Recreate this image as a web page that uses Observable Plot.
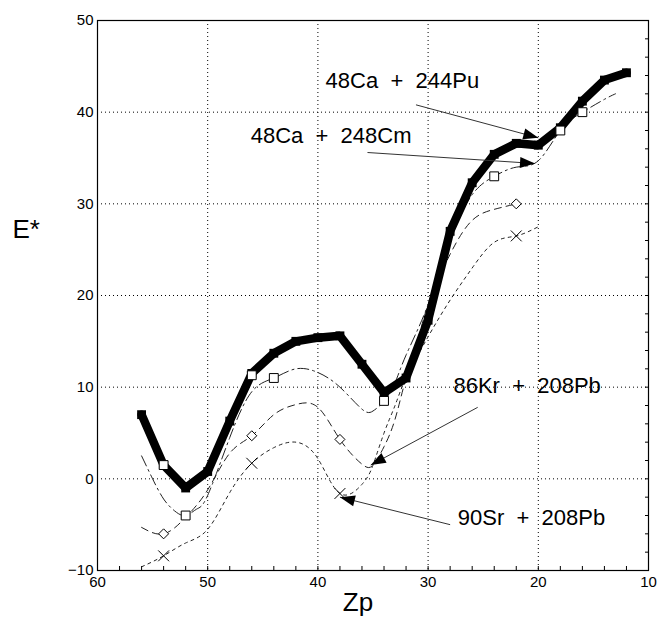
<!DOCTYPE html>
<html>
<head>
<meta charset="utf-8">
<script src="https://cdn.jsdelivr.net/npm/d3@7"></script>
<script src="https://cdn.jsdelivr.net/npm/@observablehq/plot@0.6"></script>
<style>
  body { margin: 0; background: white; }
  svg text { white-space: pre; }
</style>
</head>
<body>
<div id="chart"></div>
<script>
// 48Ca + 244Pu (thick solid line)
const puZ = [56, 54, 52, 50, 48, 46, 44, 42, 40, 38, 36, 34, 32, 30, 28, 26, 24, 22, 20, 18, 16, 14, 12];
const puE = [7, 1.5, -1, 0.8, 6.3, 11.5, 13.7, 15, 15.4, 15.6, 12.5, 9.4, 11, 17.3, 27, 32.3, 35.4, 36.6, 36.4, 38.3, 41.2, 43.5, 44.3];

// 48Ca + 248Cm (dash-dot curve, open squares)
const cmZ = [56, 55, 54, 53, 52, 51, 50, 48, 46, 44, 42, 40, 38, 36, 35, 34, 33, 32, 30, 28, 26, 24, 22, 20, 18, 16, 14, 13];
const cmE = [2.5, 0, -2.2, -3.5, -4, -3.3, -1.8, 4.5, 9.5, 11, 12, 11.6, 10, 7.6, 7.4, 8.5, 10.5, 13.5, 19, 26, 31, 33, 34, 34.7, 38, 40, 41.4, 42];
const cmMarkZ = [54, 52, 46, 44, 34, 24, 18, 16];
const cmMarkE = [1.5, -4, 11.3, 11, 8.5, 33, 38, 40];

// 86Kr + 208Pb (dashed curve, diamonds)
const krZ = [56, 54, 52, 50, 48, 46, 44, 42, 40, 38, 36, 35, 34, 33, 32, 31, 30, 28, 26, 24, 22];
const krE = [-5.3, -6, -4.2, -1.2, 2.8, 4.7, 7, 8.1, 7.8, 4.3, 1.6, 1.5, 3.5, 6.5, 11, 14.8, 19, 24.5, 28.2, 29.4, 30];
const krMarkZ = [54, 46, 38, 22];
const krMarkE = [-6, 4.7, 4.3, 30];

// 90Sr + 208Pb (short-dashed curve, crosses)
const srZ = [56, 54, 52, 50, 48, 46, 44, 42, 40, 38, 36, 35, 34, 33, 32, 30, 28, 26, 24, 22, 20];
const srE = [-9.6, -8.4, -7, -5.5, -1.5, 1.7, 3.4, 4, 2.2, -1.6, -0.6, 1.5, 5, 8, 11, 15.5, 19.5, 23, 25.8, 26.5, 27.5];
const srMarkZ = [54, 46, 38, 22];
const srMarkE = [-8.4, 1.7, -1.6, 26.5];

// annotations
const labelText = ["48Ca  +  244Pu", "48Ca  +  248Cm", "86Kr  +  208Pb", "90Sr  +  208Pb"];
const labelZ = [39.3, 46.1, 27.7, 27.3];
const labelE = [43.4, 37.4, 10.1, -4.3];
const arrowZ1 = [31.1, 35.5, 25.5, 28.0];
const arrowE1 = [40.8, 35.6, 7.8, -5.0];
const arrowZ2 = [20.0, 20.3, 35.2, 38.0];
const arrowE2 = [37.2, 34.4, 1.5, -2.0];

// axis ticks
const xMajor = [60, 50, 40, 30, 20, 10];
const yMajor = [-10, 0, 10, 20, 30, 40, 50];
const xGrid = [50, 40, 30, 20];
const yGrid = [0, 10, 20, 30, 40];
const xMinor = d3.range(12, 60, 2);
const yMinor = d3.range(-8, 50, 2);

const W = 661, H = 628, ML = 97, MR = 13, MT = 20, MB = 58;
const kx = (W - ML - MR) / 50, ky = (H - MT - MB) / 60;

const zip = (zs, es) => zs.map((z, i) => ({z, e: es[i]}));
const pu = zip(puZ, puE), cm = zip(cmZ, cmE), kr = zip(krZ, krE), sr = zip(srZ, srE);
const labels = labelText.map((t, i) => ({t, z: labelZ[i], e: labelE[i]}));
const arrows = arrowZ1.map((z1, i) => {
  const z2 = arrowZ2[i], e1 = arrowE1[i], e2 = arrowE2[i];
  const ang = Math.atan2(-(e2 - e1) * ky, -(z2 - z1) * kx) * 180 / Math.PI;
  return {z1, e1, z2, e2, ang};
});

const headSymbol = {
  draw(context) {
    context.moveTo(0, 0);
    context.lineTo(-15, -5.5);
    context.lineTo(-15, 5.5);
    context.closePath();
  }
};

const curveStyle = {stroke: "#222", strokeWidth: 1, curve: "natural"};

const chart = Plot.plot({
  width: W, height: H,
  marginLeft: ML, marginRight: MR, marginTop: MT, marginBottom: MB,
  style: {fontFamily: "'Liberation Sans', Arial, sans-serif", fontSize: "15px", background: "white", color: "black"},
  x: {domain: [60, 10]},
  y: {domain: [-10, 50]},
  marks: [
    Plot.gridX(xGrid, {stroke: "black", strokeOpacity: 1, strokeDasharray: "1,3"}),
    Plot.gridY(yGrid, {stroke: "black", strokeOpacity: 1, strokeDasharray: "1,3"}),
    Plot.axisX(xMajor, {tickSize: 0, tickPadding: 6, fontSize: 15, label: null}),
    Plot.axisY(yMajor, {tickSize: 0, tickPadding: 4, fontSize: 15, label: null}),
    Plot.axisX(xMinor, {tickSize: -4, tickFormat: () => "", label: null}),
    Plot.axisY(yMinor, {anchor: "right", tickSize: -4, tickFormat: () => "", label: null}),
    Plot.frame({stroke: "black", strokeWidth: 1.2}),
    Plot.line(cm, {x: "z", y: "e", ...curveStyle, strokeDasharray: "11,4,2,4"}),
    Plot.line(kr, {x: "z", y: "e", ...curveStyle, strokeDasharray: "7,5"}),
    Plot.line(sr, {x: "z", y: "e", ...curveStyle, strokeDasharray: "3,4"}),
    Plot.line(pu, {x: "z", y: "e", stroke: "black", strokeWidth: 8.5, strokeLinejoin: "miter"}),
    Plot.dot(pu, {x: "z", y: "e", symbol: "square", r: 5, fill: "black"}),
    Plot.dot(zip(cmMarkZ, cmMarkE), {x: "z", y: "e", symbol: "square", r: 5, fill: "white", stroke: "black", strokeWidth: 1}),
    Plot.dot(zip(krMarkZ, krMarkE), {x: "z", y: "e", symbol: "diamond2", r: 4.5, fill: "white", stroke: "black", strokeWidth: 1}),
    Plot.dot(zip(srMarkZ, srMarkE), {x: "z", y: "e", symbol: "times", r: 5, stroke: "black", strokeWidth: 1}),
    Plot.link(arrows, {x1: "z1", y1: "e1", x2: "z2", y2: "e2", stroke: "#333", strokeWidth: 1}),
    Plot.dot(arrows, {x: "z2", y: "e2", symbol: headSymbol, rotate: "ang", fill: "black", stroke: "none"}),
    Plot.text(labels, {x: "z", y: "e", text: "t", textAnchor: "start", fontSize: 22, fill: "black"}),
    Plot.text(["E*"], {frameAnchor: "left", dx: -85, dy: -66, textAnchor: "start", fontSize: 26, fill: "black"}),
    Plot.text(["Zp"], {frameAnchor: "bottom", dx: -15, dy: 40, fontSize: 26, fill: "black"})
  ]
});
document.getElementById("chart").appendChild(chart);
</script>
</body>
</html>
